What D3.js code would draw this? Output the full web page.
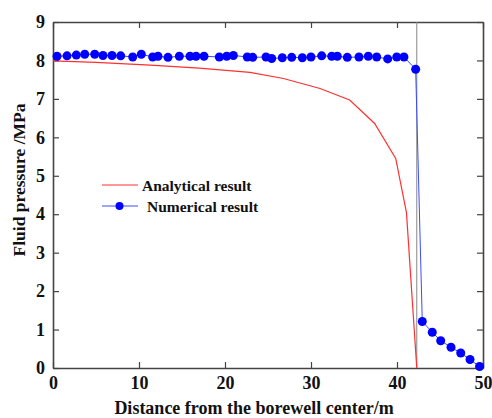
<!DOCTYPE html>
<html>
<head>
<meta charset="utf-8">
<script src="https://cdn.jsdelivr.net/npm/d3@7"></script>
<style>
  body { margin: 0; background: #fff; }
  text { font-family: "Liberation Serif", "Times New Roman", serif; font-weight: bold; fill: #111; }
</style>
</head>
<body>
<svg id="chart" width="492" height="418"></svg>
<script>
// analytical solution (red line)
var anaX = [0, 5, 11.3, 17, 22.9, 26.8, 31.05, 34.5, 37.4, 39.85, 41.1, 42.3];
var anaP = [7.99, 7.95, 7.88, 7.8, 7.69, 7.53, 7.27, 6.97, 6.36, 5.45, 4.04, 0];

// numerical result (blue markers)
var numX = [0.47, 1.63, 2.71, 3.69, 4.85, 5.81, 6.86, 7.87, 9.27, 10.27,
  11.59, 12.21, 13.37, 14.69, 15.93, 16.63, 17.56, 19.34, 20.2, 20.97,
  22.59, 23.22, 24.77, 25.43, 26.66, 27.76, 28.99, 30.0, 31.24, 32.41,
  33.06, 34.22, 35.58, 36.66, 37.64, 38.92, 39.97, 40.81, 42.17,
  42.94, 44.1, 45.08, 46.28, 47.41, 48.49, 49.6];
var numP = [8.11, 8.12, 8.14, 8.16, 8.16, 8.13, 8.13, 8.12, 8.09, 8.16,
  8.09, 8.11, 8.08, 8.11, 8.11, 8.11, 8.11, 8.09, 8.11, 8.13,
  8.09, 8.08, 8.09, 8.05, 8.07, 8.08, 8.07, 8.09, 8.12, 8.11,
  8.11, 8.08, 8.09, 8.11, 8.09, 8.04, 8.09, 8.09, 7.77,
  1.21, 0.93, 0.71, 0.54, 0.39, 0.22, 0.04];

var boundaryX = 42.3;
var xTicks = [0, 10, 20, 30, 40, 50];
var yTicks = [0, 1, 2, 3, 4, 5, 6, 7, 8, 9];
var legendLabels = ['Analytical result', 'Numerical result'];

var margin = {top: 22, right: 9, bottom: 50, left: 53};
var width = 492 - margin.left - margin.right;
var height = 418 - margin.top - margin.bottom;

var svg = d3.select('#chart');
var g = svg.append('g').attr('transform', 'translate(' + margin.left + ',' + margin.top + ')');

var x = d3.scaleLinear().domain([0, 50]).range([0, width]);
var y = d3.scaleLinear().domain([0, 9]).range([height, 0]);

var frameColor = '#444';

// axes, ticks pointing inward
var xAxis = g.append('g').attr('transform', 'translate(0,' + height + ')')
  .call(d3.axisBottom(x).tickValues(xTicks).tickSizeInner(-6).tickSizeOuter(0).tickPadding(8));
var xTop = g.append('g')
  .call(d3.axisTop(x).tickValues(xTicks).tickSizeInner(-6).tickSizeOuter(0).tickFormat(''));
var yAxis = g.append('g')
  .call(d3.axisLeft(y).tickValues(yTicks).tickSizeInner(-6).tickSizeOuter(0).tickPadding(8));
var yRight = g.append('g').attr('transform', 'translate(' + width + ',0)')
  .call(d3.axisRight(y).tickValues(yTicks).tickSizeInner(-6).tickSizeOuter(0).tickFormat(''));

[xAxis, xTop, yAxis, yRight].forEach(function(a) {
  a.select('.domain').attr('stroke', frameColor).attr('stroke-width', 1.6);
  a.selectAll('.tick line').attr('stroke', frameColor).attr('stroke-width', 1.2);
  a.selectAll('.tick text').style('font-size', '18px').attr('fill', '#111')
    .style('font-family', '"Liberation Serif", "Times New Roman", serif').style('font-weight', 'bold');
});

// boundary line
g.append('line')
  .attr('x1', x(boundaryX)).attr('x2', x(boundaryX))
  .attr('y1', 0).attr('y2', height)
  .attr('stroke', '#888').attr('stroke-width', 1);

var line = d3.line()
  .x(function(d) { return x(d[0]); })
  .y(function(d) { return y(d[1]); });

var anaData = anaX.map(function(v, i) { return [v, anaP[i]]; });
var numData = numX.map(function(v, i) { return [v, numP[i]]; });

g.append('path')
  .attr('d', line(anaData))
  .attr('fill', 'none')
  .attr('stroke', '#ff3030')
  .attr('stroke-width', 1.2);

g.append('path')
  .attr('d', line(numData))
  .attr('fill', 'none')
  .attr('stroke', '#3a4cff')
  .attr('stroke-width', 1);

g.selectAll('.dot')
  .data(numData)
  .enter().append('circle')
  .attr('class', 'dot')
  .attr('r', 4.5)
  .attr('cx', function(d) { return x(d[0]); })
  .attr('cy', function(d) { return y(d[1]); })
  .attr('fill', '#0000ff');

// legend
var legend = svg.append('g');
legend.append('line')
  .attr('x1', 102).attr('x2', 138).attr('y1', 185).attr('y2', 185)
  .attr('stroke', '#ff3030').attr('stroke-width', 1.2);
legend.append('text')
  .attr('x', 142).attr('y', 190.5)
  .style('font-size', '15.5px')
  .text(legendLabels[0]);
legend.append('line')
  .attr('x1', 102).attr('x2', 138).attr('y1', 206).attr('y2', 206)
  .attr('stroke', '#3a4cff').attr('stroke-width', 1);
legend.append('circle')
  .attr('cx', 119.5).attr('cy', 206).attr('r', 4)
  .attr('fill', '#0000ff');
legend.append('text')
  .attr('x', 147).attr('y', 211.5)
  .style('font-size', '15.5px')
  .text(legendLabels[1]);

// axis titles
svg.append('text')
  .attr('x', 254).attr('y', 414)
  .attr('text-anchor', 'middle')
  .style('font-size', '18px')
  .text('Distance from the borewell center/m');

svg.append('text')
  .attr('transform', 'translate(25,180) rotate(-90)')
  .attr('text-anchor', 'middle')
  .style('font-size', '17.5px')
  .text('Fluid pressure /MPa');
</script>
</body>
</html>
